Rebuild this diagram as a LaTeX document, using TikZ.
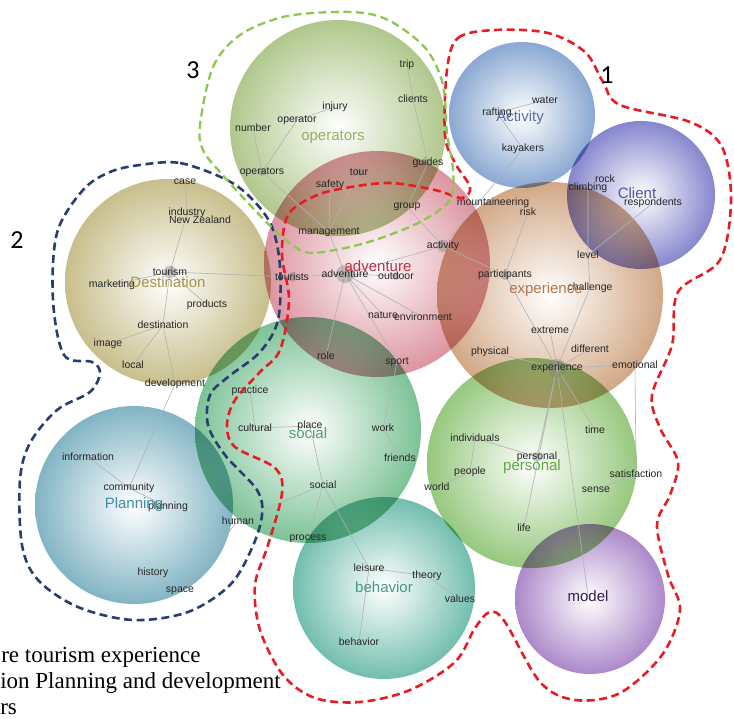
\documentclass[tikz,border=0pt]{standalone}
\usepackage{fontspec}
\setmainfont{Liberation Serif}
\setsansfont{Liberation Sans}
\newfontfamily\numfont{Carlito}
\usepackage{tikz}

\definecolor{cOper}{RGB}{176,199,140}
\definecolor{cAct}{RGB}{138,168,210}
\definecolor{cCli}{RGB}{134,134,206}
\definecolor{cExp}{RGB}{210,168,134}
\definecolor{cAdv}{RGB}{220,148,160}
\definecolor{cDest}{RGB}{200,190,140}
\definecolor{cSoc}{RGB}{124,194,150}
\definecolor{cPlan}{RGB}{130,180,196}
\definecolor{cBeh}{RGB}{114,190,174}
\definecolor{cPers}{RGB}{150,200,126}
\definecolor{cMod}{RGB}{172,136,202}
\definecolor{tOper}{RGB}{150,176,100}
\definecolor{tAct}{RGB}{88,108,170}
\definecolor{tCli}{RGB}{80,80,170}
\definecolor{tExp}{RGB}{175,120,80}
\definecolor{tAdv}{RGB}{185,50,70}
\definecolor{tDest}{RGB}{165,150,80}
\definecolor{tSoc}{RGB}{80,160,110}
\definecolor{tPlan}{RGB}{60,140,160}
\definecolor{tBeh}{RGB}{70,150,140}
\definecolor{tPers}{RGB}{90,170,60}
\definecolor{tMod}{RGB}{50,30,80}
\definecolor{ringRed}{RGB}{228,30,36}
\definecolor{ringBlue}{RGB}{40,62,110}
\definecolor{ringGreen}{RGB}{140,200,80}

\begin{document}
\begin{tikzpicture}[x=1pt,y=-1pt,semithick]
\tikzstyle{bubble}=[blend mode=multiply,inner color=white]
\tikzstyle{link}=[draw=black!30,line width=0.6pt]
\tikzstyle{hub}=[circle,fill=black!50,fill opacity=0.4,draw=none,inner sep=0pt]
\tikzstyle{word}=[font=\sffamily\fontsize{10.5}{11}\selectfont,text=black!85,inner sep=0pt]
\tikzstyle{topic}=[font=\sffamily\fontsize{15}{16}\selectfont,inner sep=0pt]
\tikzstyle{ring}=[line width=2.6pt,dash pattern=on 8pt off 4.5pt]
\tikzstyle{tag}=[font=\numfont\fontsize{26}{26}\selectfont,inner sep=0pt]
\tikzstyle{legend}=[font=\fontsize{23}{23}\selectfont,anchor=base west,inner sep=0pt]

\useasboundingbox (0,0) rectangle (734,719);

% topic bubbles
\shade[bubble,outer color=cOper] (338,128) circle (108pt);
\shade[bubble,outer color=cAct]  (522,115) circle (73pt);
\shade[bubble,outer color=cCli]  (641,195) circle (74pt);
\shade[bubble,outer color=cExp]  (550,295) circle (113pt);
\shade[bubble,outer color=cAdv]  (377,264) circle (113pt);
\shade[bubble,outer color=cDest] (168,282) circle (103pt);
\shade[bubble,outer color=cSoc]  (308,430) circle (113pt);
\shade[bubble,outer color=cPlan] (134,505) circle (99pt);
\shade[bubble,outer color=cBeh]  (384,588) circle (91pt);
\shade[bubble,outer color=cPers] (532,463) circle (105pt);
\shade[bubble,outer color=cMod]  (590,599) circle (75pt);

% word positions
\coordinate (trip) at (407,65);
\coordinate (clients) at (413,99);
\coordinate (guides) at (428,163);
\coordinate (injury) at (335,107);
\coordinate (operator) at (297,120);
\coordinate (number) at (253,128);
\coordinate (opw) at (262,172);
\coordinate (tour) at (359,172);
\coordinate (safety) at (330,185);
\coordinate (group) at (407,207);
\coordinate (management) at (329,232);
\coordinate (mount) at (493,203);
\coordinate (risk) at (528,212);
\coordinate (activity) at (443,246);
\coordinate (advw) at (345,274);
\coordinate (outdoor) at (396,276);
\coordinate (tourists) at (292,277);
\coordinate (nature) at (383,315);
\coordinate (environment) at (423,317);
\coordinate (role) at (326,356);
\coordinate (sport) at (397,362);
\coordinate (case) at (185,182);
\coordinate (industry) at (187,213);
\coordinate (nz) at (200,220);
\coordinate (tourism) at (170,272);
\coordinate (marketing) at (112,285);
\coordinate (products) at (207,305);
\coordinate (destination) at (163,325);
\coordinate (image) at (108,344);
\coordinate (local) at (133,365);
\coordinate (development) at (175,384);
\coordinate (practice) at (250,391);
\coordinate (cultural) at (255,428);
\coordinate (place) at (310,426);
\coordinate (work) at (383,428);
\coordinate (friends) at (400,458);
\coordinate (socw) at (323,485);
\coordinate (human) at (238,521);
\coordinate (process) at (308,539);
\coordinate (leisure) at (369,568);
\coordinate (theory) at (427,576);
\coordinate (values) at (460,599);
\coordinate (behw) at (359,642);
\coordinate (information) at (88,457);
\coordinate (community) at (129,488);
\coordinate (planw) at (168,507);
\coordinate (history) at (153,573);
\coordinate (space) at (180,591);
\coordinate (rafting) at (497,113);
\coordinate (water) at (545,100);
\coordinate (kayakers) at (523,149);
\coordinate (rock) at (605,179);
\coordinate (climbing) at (588,188);
\coordinate (respondents) at (653,203);
\coordinate (level) at (588,255);
\coordinate (participants) at (505,275);
\coordinate (challenge) at (590,288);
\coordinate (extreme) at (550,330);
\coordinate (physical) at (490,352);
\coordinate (different) at (590,349);
\coordinate (expw) at (557,368);
\coordinate (emotional) at (635,365);
\coordinate (time) at (595,430);
\coordinate (individuals) at (475,438);
\coordinate (perw) at (537,457);
\coordinate (people) at (470,472);
\coordinate (world) at (437,487);
\coordinate (satisfaction) at (636,474);
\coordinate (sense) at (596,490);
\coordinate (life) at (524,528);
\coordinate (modelw) at (588,596);

% links
\draw[link] (trip) -- (clients) -- (guides) -- (group) -- (activity) -- (advw);
\draw[link] (injury) -- (operator) -- (opw) -- (management) -- (advw);
\draw[link] (number) -- (opw) (tour) -- (management) (safety) -- (management);
\draw[link] (rafting) -- (water) (rafting) -- (kayakers) -- (activity) -- (participants) -- (expw);
\draw[link] (risk) -- (participants);
\draw[link] (advw) -- (tourists) -- (tourism);
\draw[link] (advw) -- (outdoor) (advw) -- (nature) (advw) -- (environment);
\draw[link] (advw) -- (role) (advw) -- (sport) -- (work) -- (friends);
\draw[link] (climbing) -- (level) -- (respondents) (level) -- (challenge) -- (expw);
\draw[link] (expw) -- (extreme) (expw) -- (physical) (expw) -- (different);
\draw[link] (expw) -- (emotional) -- (satisfaction) -- (sense);
\draw[link] (expw) -- (time) (expw) -- (perw) (expw) -- (life) (expw) -- (modelw);
\draw[link] (perw) -- (individuals) -- (people) -- (world);
\draw[link] (practice) -- (cultural) -- (place) -- (socw) -- (human) -- (space) -- (history);
\draw[link] (socw) -- (process) (socw) -- (leisure) -- (theory) -- (values) (leisure) -- (behw);
\draw[link] (case) -- (industry) -- (tourism) -- (marketing) (tourism) -- (products);
\draw[link] (tourism) -- (destination) -- (image) (destination) -- (local);
\draw[link] (destination) -- (development) -- (community) -- (information) (community) -- (planw);

% hubs
\node[hub,minimum size=18pt] (hAdv) at (advw) {};
\node[hub,minimum size=18pt] (hExp) at (expw) {};
\node[hub,minimum size=13pt] (hTour) at (tourism) {};
\node[hub,minimum size=12pt] (hAct) at (activity) {};
\node[hub,minimum size=10pt] (hPart) at (participants) {};
\node[hub,minimum size=10pt] (hPers) at (perw) {};
\node[hub,minimum size=10pt] (hTous) at (tourists) {};
\node[hub,minimum size=8pt] (hOut) at (outdoor) {};
\node[hub,minimum size=8pt] (hTr) at (tour) {};
\node[hub,minimum size=8pt] (hGd) at (guides) {};
\node[hub,minimum size=8pt] (hOp) at (opw) {};

% words
\foreach \n/\t in {trip/trip,clients/clients,guides/guides,injury/injury,operator/operator,
  number/number,opw/operators,tour/tour,safety/safety,group/group,management/management,
  mount/mountaineering,risk/risk,activity/activity,advw/adventure,outdoor/outdoor,
  tourists/tourists,nature/nature,environment/environment,role/role,sport/sport,
  case/case,industry/industry,nz/New Zealand,tourism/tourism,marketing/marketing,
  products/products,destination/destination,image/image,local/local,development/development,
  practice/practice,cultural/cultural,place/place,work/work,friends/friends,socw/social,
  human/human,process/process,leisure/leisure,theory/theory,values/values,behw/behavior,
  information/information,community/community,planw/planning,history/history,space/space,
  rafting/rafting,water/water,kayakers/kayakers,rock/rock,climbing/climbing,
  respondents/respondents,level/level,participants/participants,challenge/challenge,
  extreme/extreme,physical/physical,different/different,expw/experience,emotional/emotional,
  time/time,individuals/individuals,perw/personal,people/people,world/world,
  satisfaction/satisfaction,sense/sense,life/life}
  \node[word] (w-\n) at (\n) {\t};

% topic labels
\node[topic,text=tOper] (lOper) at (333,137) {operators};
\node[topic,text=tAct]  (lAct)  at (520,118) {Activity};
\node[topic,text=tCli]  (lCli)  at (637,193) {Client};
\node[topic,text=tExp]  (lExp)  at (546,290) {experience};
\node[topic,text=tAdv]  (lAdv)  at (378,266) {adventure};
\node[topic,text=tDest] (lDest) at (168,282) {Destination};
\node[topic,text=tSoc]  (lSoc)  at (308,433) {social};
\node[topic,text=tPlan] (lPlan) at (134,505) {Planning};
\node[topic,text=tBeh]  (lBeh)  at (384,587) {behavior};
\node[topic,text=tPers] (lPers) at (532,467) {personal};
\node[topic,text=tMod]  (lMod)  at (modelw) {model};

% theme outlines
\draw[ring,ringRed] plot[smooth cycle,tension=0.55] coordinates {
  (447,70) (458,38) (495,30) (548,33) (585,52) (603,82) (620,105) (690,122)
  (722,147) (731,200) (720,260) (678,292) (672,345) (652,395) (660,428)
  (678,462) (670,495) (657,525) (668,575) (680,610) (662,655) (620,693)
  (575,700) (540,682) (505,622) (490,612) (475,628) (455,662) (410,690)
  (360,702) (315,698) (283,675) (260,630) (255,585) (268,545) (282,493)
  (275,468) (235,447) (227,425) (235,400) (260,372) (280,350) (289,300)
  (282,255) (288,215) (315,196) (345,188) (390,183) (435,190) (462,198)
  (470,187) (455,163) (445,135)};
\draw[ring,ringBlue] plot[smooth cycle,tension=0.55] coordinates {
  (140,165) (180,163) (227,180) (253,200) (272,227) (280,267) (278,320)
  (260,352) (228,377) (210,395) (208,425) (225,455) (257,490) (262,515)
  (252,548) (230,585) (188,612) (133,620) (78,607) (38,580) (22,545)
  (20,480) (30,443) (57,410) (90,392) (100,373) (92,362) (64,355) (53,300)
  (57,233) (83,190) (110,172)};
\draw[ring,ringGreen,line width=2.3pt] plot[smooth cycle,tension=0.55] coordinates {
  (200,125) (213,67) (240,35) (283,17) (333,12) (370,14) (397,25) (427,50)
  (443,85) (447,133) (453,170) (450,200) (420,222) (375,240) (335,250)
  (305,252) (280,235) (250,205) (220,172) (203,150)};

% theme numbers
\node[tag] (n1) at (607,75) {1};
\node[tag] (n2) at (17,240) {2};
\node[tag] (n3) at (193,70) {3};

% legend
\node[legend] (g1) at (1,662) {re tourism experience};
\node[legend] (g2) at (0,688) {ion Planning and development};
\node[legend] (g3) at (0,714) {rs};
\end{tikzpicture}
\end{document}
